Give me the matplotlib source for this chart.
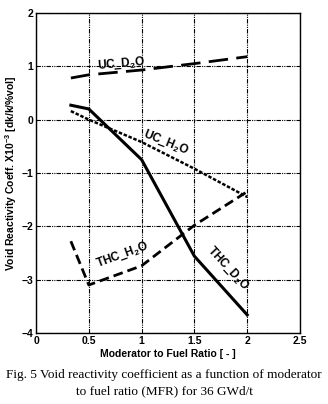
import matplotlib
matplotlib.use('Agg')
import matplotlib.pyplot as plt

plt.rcParams['mathtext.fontset'] = 'custom'
plt.rcParams['mathtext.rm'] = 'Liberation Sans:bold'
plt.rcParams['mathtext.it'] = 'Liberation Sans:bold'
plt.rcParams['mathtext.bf'] = 'Liberation Sans:bold'

# Moderator to fuel ratio sample points
mfr = [0.33, 0.5, 1.0, 1.5, 2.0]

# Void reactivity coefficient (x1e-3 dk/k/%vol)
uc_d2o = [0.78, 0.84, 0.93, 1.05, 1.18]
uc_h2o = [0.16, 0.0, -0.42, -0.92, -1.45]
thc_d2o = [0.27, 0.2, -0.75, -2.56, -3.66]
thc_h2o = [-2.28, -3.1, -2.74, -1.98, -1.35]

bold = dict(family='Liberation Sans', fontweight='bold')

fig = plt.figure(figsize=(3.28, 4.04), dpi=100)
fig.patch.set_facecolor('white')
ax = fig.add_axes([0.1098, 0.1757, 0.8048, 0.7923])

ax.plot(mfr, uc_d2o, color='black', lw=2.0, dashes=(7, 3))
ax.plot(mfr, uc_h2o, color='black', lw=1.8, dashes=(1.4, 0.7))
ax.plot(mfr, thc_d2o, color='black', lw=2.2)
ax.plot(mfr, thc_h2o, color='black', lw=2.0, dashes=(3.5, 1.8))

ax.set_xlim(0, 2.5)
ax.set_ylim(-4, 2)
ax.set_xticks([0, 0.5, 1, 1.5, 2, 2.5])
ax.set_xticklabels(['0', '0.5', '1', '1.5', '2', '2.5'])
ax.set_yticks([-4, -3, -2, -1, 0, 1, 2])
ax.grid(True, color='black', lw=0.8, dashes=(4, 1, 1, 1, 1, 1))
ax.tick_params(length=0, labelsize=7.5, pad=2)
for lab in ax.get_xticklabels() + ax.get_yticklabels():
    lab.set_fontfamily('Liberation Sans')
    lab.set_fontweight('bold')
for sp in ax.spines.values():
    sp.set_linewidth(1.0)

ax.set_xlabel('Moderator to Fuel Ratio [ - ]', fontsize=7.5, labelpad=2, **bold)
ax.set_ylabel('Void Reactivity Coeff. X10$^{-3}$ [dk/k/%vol]', fontsize=7.5,
              labelpad=2, **bold)

ax.text(0.81, 1.04, 'UC_D$_2$O', fontsize=8.5, rotation=5, ha='center', va='center', **bold)
ax.text(1.23, -0.43, 'UC_H$_2$O', fontsize=8.5, rotation=-22, ha='center', va='center', **bold)
ax.text(0.82, -2.53, 'THC_H$_2$O', fontsize=8.5, rotation=20, ha='center', va='center', **bold)
ax.text(1.82, -2.78, 'THC_D$_2$O', fontsize=8.5, rotation=-47, ha='center', va='center', **bold)

fig.text(0.5, 1 - 375 / 404, 'Fig. 5 Void reactivity coefficient as a function of moderator',
         ha='center', va='center', fontsize=9.5, family='Liberation Serif')
fig.text(0.5, 1 - 391 / 404, 'to fuel ratio (MFR) for 36 GWd/t',
         ha='center', va='center', fontsize=9.5, family='Liberation Serif')

fig.savefig('out.png', dpi=100, facecolor='white')
